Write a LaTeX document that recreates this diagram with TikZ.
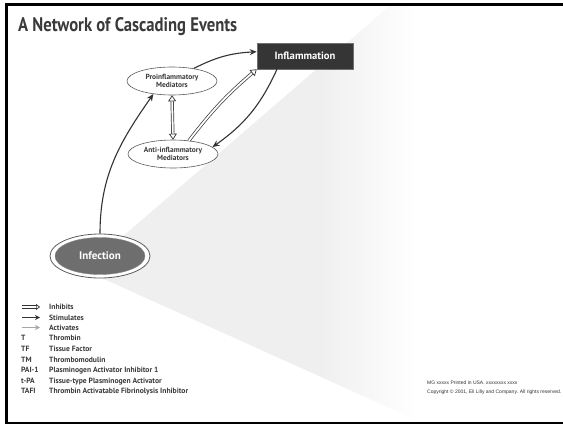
\documentclass[tikz,border=0pt]{standalone}
\usepackage{fontspec}
\setmainfont{PT Sans}
\newfontfamily\footfont{Liberation Sans}
\usetikzlibrary{arrows.meta,shapes.geometric}
\definecolor{ink}{HTML}{333333}
\definecolor{txt}{HTML}{3A3A3A}
\definecolor{beam}{HTML}{EFEFEF}
\definecolor{infbox}{HTML}{353535}
\definecolor{infect}{HTML}{6E6E6E}
\begin{document}
\begin{tikzpicture}[x=1pt,y=-1pt,
  mediator/.style={ellipse,draw=ink!80,line width=0.6pt,fill=white,
    minimum width=90pt,minimum height=28pt,inner sep=0pt,
    font=\fontsize{7.4}{8.6}\selectfont\bfseries,text=txt,align=center},
  stim/.style={draw=ink,line width=1.1pt,-{Stealth[length=7pt,width=6pt]}},
  hollow/.style={draw=ink,line width=0.7pt,double=white,double distance=1.8pt,
    -{Triangle[open,length=6pt,width=8pt]}},
  hollowboth/.style={hollow,{Triangle[open,length=6pt,width=8pt]}-{Triangle[open,length=6pt,width=8pt]}},
  act/.style={draw=gray!70,line width=1.1pt,-{Stealth[length=7pt,width=6pt]}},
  legtxt/.style={anchor=base west,inner sep=0pt,text=txt,
    font=\fontsize{7.6}{8}\selectfont\bfseries},
  foot/.style={anchor=base west,inner sep=0pt,text=ink,
    font=\footfont\fontsize{5}{6}\selectfont}]
\useasboundingbox (0,0) rectangle (563,426);
\fill[white] (0,0) rectangle (563,426);

% light cone spreading out from the infection, fading to the right
\begin{scope}
  \clip (84,270) -- (392,4) -- (430,4) -- (430,423) -- (423,423) -- cycle;
  \fill[beam] (0,0) rectangle (322,426);
  \shade[left color=beam,right color=white] (321,0) rectangle (416,426);
\end{scope}

% frame
\draw[black,line width=2.6pt] (563,4.3) -- (6.3,4.3) -- (6.3,423) -- (563,423);

% title
\node[anchor=base west,inner sep=0pt,text=txt] (title) at (18,31)
  {\resizebox{219pt}{14pt}{\bfseries A Network of Cascading Events}};

% nodes
\node[rectangle,fill=infbox,draw=ink!70,line width=0.6pt,minimum width=96pt,
  minimum height=26pt,inner sep=0pt,text=white,
  font=\fontsize{10.6}{12}\selectfont\bfseries] (infl) at (305,56) {Inflammation};
\node[mediator] (pro) at (172,81) {Proinflammatory\\Mediators};
\node[mediator] (anti) at (173,154) {Anti-inflammatory\\Mediators};
\node[ellipse,draw=ink!80,line width=0.8pt,fill=white,minimum width=100pt,
  minimum height=44pt,inner sep=0pt] (inf) at (100,256) {};
\node[ellipse,fill=infect,draw=ink!60,line width=0.4pt,minimum width=90pt,
  minimum height=37pt,inner sep=0pt,text=white,
  font=\fontsize{11}{12}\selectfont\bfseries] (infin) at (100,256) {Infection};

% connectors
\draw[stim] (inf.north) to[out=90,in=235] (pro.215);
\draw[stim] (pro.30) to[bend left=12] (infl.175);
\draw[hollow] (anti.40) to[bend left=6] (infl.south west);
\draw[stim] ([xshift=-28pt]infl.south) to[bend left=15] (anti.10);
\draw[hollowboth] (pro.south) -- (anti.north);

% legend
\coordinate (l1a) at (22,307); \coordinate (l1b) at (40,307);
\coordinate (l2a) at (22,317.5); \coordinate (l2b) at (40,317.5);
\coordinate (l3a) at (22,327.5); \coordinate (l3b) at (40,327.5);
\draw[hollow,-{Triangle[open,length=4pt,width=6pt]}] (l1a) -- (l1b);
\draw[stim,-{Stealth[length=5pt,width=5pt]}] (l2a) -- (l2b);
\draw[act,-{Stealth[length=5pt,width=5pt]}] (l3a) -- (l3b);
\node[legtxt] (k1) at (49,309.5) {Inhibits};
\node[legtxt] (k2) at (49,320) {Stimulates};
\node[legtxt] (k3) at (49,330) {Activates};
\node[legtxt] (a4) at (21,340.5) {T};
\node[legtxt] (k4) at (49,340.5) {Thrombin};
\node[legtxt] (a5) at (21,351) {TF};
\node[legtxt] (k5) at (49,351) {Tissue Factor};
\node[legtxt] (a6) at (21,362) {TM};
\node[legtxt] (k6) at (49,362) {Thrombomodulin};
\node[legtxt] (a7) at (21,372.5) {PAI-1};
\node[legtxt] (k7) at (49,372.5) {Plasminogen Activator Inhibitor 1};
\node[legtxt] (a8) at (21,383) {t-PA};
\node[legtxt] (k8) at (49,383) {Tissue-type Plasminogen Activator};
\node[legtxt] (a9) at (21,393.5) {TAFI};
\node[legtxt] (k9) at (49,393.5) {Thrombin Activatable Fibrinolysis Inhibitor};

% footer
\node[foot] (f1) at (427,384.5) {MG xxxxx Printed in USA. xxxxxxxx xxxx};
\node[foot] (f2) at (427,393.5) {Copyright © 2001, Eli Lilly and Company. All rights reserved.};
\end{tikzpicture}
\end{document}
